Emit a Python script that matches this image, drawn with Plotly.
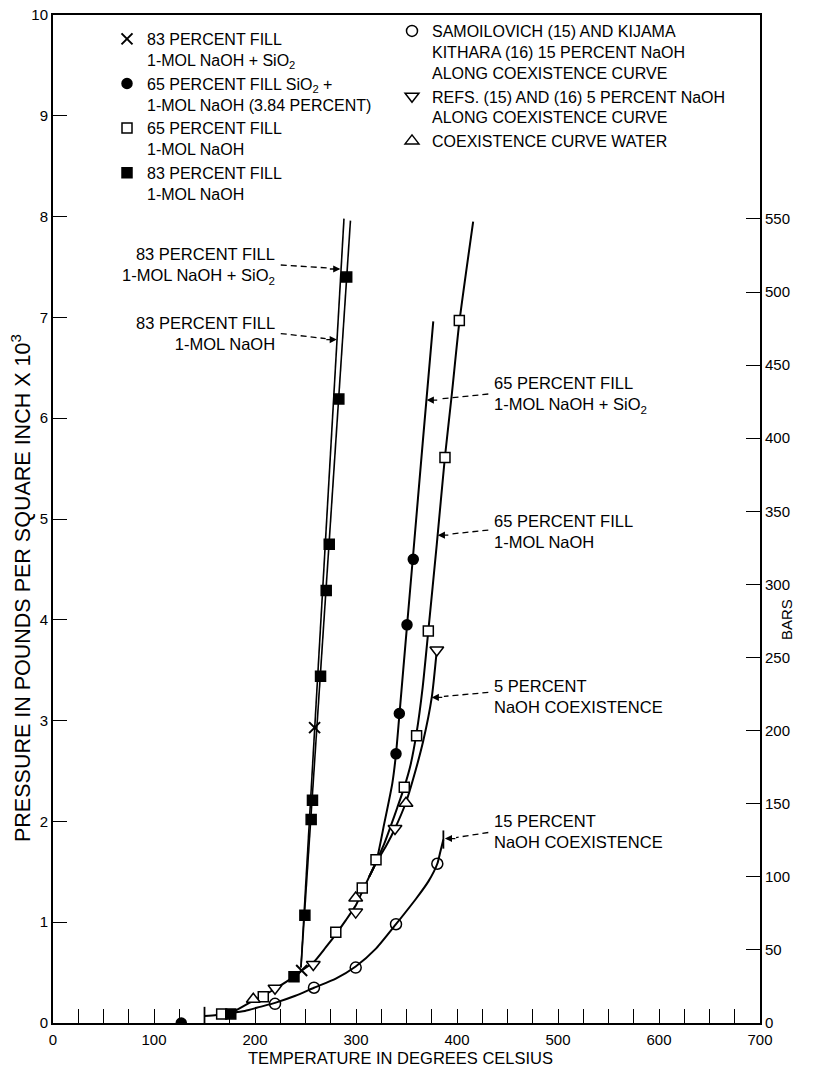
import plotly.graph_objects as go

PSI_PER_BAR = 14.5038  # psi per bar (right axis conversion)

# ---------------- marker data: temperature (deg C), pressure (psi x 10^3) ----------------
cross83_T = [246.2, 259.0]
cross83_P = [0.52, 2.93]

fcirc65_T = [127.0, 339.6, 342.9, 350.5, 356.7]
fcirc65_P = [0.0, 2.67, 3.07, 3.95, 4.60]

osq65_T = [167.0, 208.2, 280.0, 306.2, 319.8, 347.8, 360.0, 371.6, 388.1, 402.3]
osq65_P = [0.09, 0.26, 0.90, 1.34, 1.62, 2.34, 2.85, 3.89, 5.61, 6.97]

fsq83_T = [176.0, 238.6, 249.4, 255.6, 256.9, 264.9, 270.5, 273.5, 283.0, 290.8]
fsq83_P = [0.09, 0.46, 1.07, 2.02, 2.21, 3.44, 4.29, 4.75, 6.19, 7.40]

ocirc15_T = [219.8, 258.4, 299.7, 339.6, 380.5]
ocirc15_P = [0.19, 0.35, 0.55, 0.98, 1.58]

tdown5_T = [219.8, 257.7, 299.7, 338.6, 380.0]
tdown5_P = [0.345, 0.58, 1.10, 1.93, 3.70]

tup_w_T = [198.3, 299.7, 349.5]
tup_w_P = [0.235, 1.24, 2.18]

# ---------------- curve data (hand-drawn curves) ----------------
l83sio2_T = [245.5, 288.1]
l83sio2_P = [0.55, 7.98]
l83_T = [245.5, 294.5]
l83_P = [0.55, 7.96]

l65_T = [150, 162, 176, 198, 208, 220, 238.6, 246, 257.7, 270, 280, 290, 300, 306, 313, 320,
         328, 335, 341, 347.8, 354, 360, 366, 371.6, 380, 388, 395, 402.3, 416]
l65_P = [0.07, 0.08, 0.10, 0.22, 0.27, 0.34, 0.46, 0.52, 0.60, 0.75, 0.88, 1.02, 1.17, 1.30, 1.45, 1.60,
         1.78, 1.97, 2.14, 2.34, 2.56, 2.88, 3.33, 3.89, 4.75, 5.61, 6.25, 6.95, 7.95]

l65sio2_T = [313, 320, 328, 336, 339.6, 342.9, 350.5, 356.7, 366, 376.5]
l65sio2_P = [1.45, 1.60, 1.98, 2.38, 2.67, 3.05, 3.94, 4.66, 5.75, 6.96]

l5_T = [313, 320, 330, 338.6, 349.5, 356, 366.6, 375, 380]
l5_P = [1.45, 1.59, 1.76, 1.93, 2.19, 2.40, 2.80, 3.23, 3.70]

l15_T = [176, 190, 205, 219.8, 240, 258.4, 280, 299.7, 320, 339.6, 360, 372, 380.5, 383.5, 386.5]
l15_P = [0.10, 0.12, 0.16, 0.20, 0.27, 0.35, 0.44, 0.56, 0.74, 0.98, 1.24, 1.41, 1.58, 1.70, 1.82]

endmark_T = [150.0, 386.5]
endmark_P = [0.07, 1.82]

# ---------------- axes ----------------
x_ticks = [0, 100, 200, 300, 400, 500, 600, 700]
y_ticks = list(range(0, 11))
bar_ticks = list(range(0, 551, 50))

# ---------------- legend texts ----------------
leg_cross = "83 PERCENT FILL<br>1-MOL NaOH + SiO<sub>2</sub>"
leg_fcirc = "65 PERCENT FILL SiO<sub>2</sub> +<br>1-MOL NaOH (3.84 PERCENT)"
leg_osq = "65 PERCENT FILL<br>1-MOL NaOH"
leg_fsq = "83 PERCENT FILL<br>1-MOL NaOH"
leg_ocirc = "SAMOILOVICH (15) AND KIJAMA<br>KITHARA (16) 15 PERCENT NaOH<br>ALONG COEXISTENCE CURVE"
leg_tdown = "REFS. (15) AND (16) 5 PERCENT NaOH<br>ALONG COEXISTENCE CURVE"
leg_tup = "COEXISTENCE CURVE WATER"

FONT = "Liberation Sans, Arial, Helvetica, sans-serif"
TXT = dict(family=FONT, size=16.5, color="black")
LEGF = dict(family=FONT, size=16, color="black")

# page geometry (pixels in the 820x1074 window); body margin is removed below
W, H = 820, 1074
L, R, T_, B = 53, 760, 15, 1023
PW, PH = R - L, B - T_


def px(xp):
    return (xp - L) / PW


def py(yp):
    return (B - yp) / PH


fig = go.Figure()


def add_curve(T, P, width=2.0, yaxis="y"):
    fig.add_trace(go.Scatter(
        x=T, y=P, mode="lines", showlegend=False, hoverinfo="skip", yaxis=yaxis,
        line=dict(color="black", width=width, shape="spline", smoothing=0.6)))


add_curve(l83sio2_T, l83sio2_P, 1.6)
add_curve(l83_T, l83_P, 1.6)
add_curve(l65_T, l65_P)
add_curve(l65sio2_T, l65sio2_P)
add_curve(l5_T, l5_P)
# the 15 percent curve is drawn against the right-hand (bars) axis
add_curve(l15_T, [p * 1000 / PSI_PER_BAR for p in l15_P], yaxis="y2")

fig.add_trace(go.Scatter(
    x=endmark_T, y=endmark_P, mode="markers", showlegend=False, hoverinfo="skip",
    marker=dict(symbol="line-ns", size=13, line=dict(color="black", width=1.8))))


def add_markers(T, P, name, symbol, size, fill, legend, lw=1.5):
    fig.add_trace(go.Scatter(
        x=T, y=P, mode="markers", name=name, legend=legend, cliponaxis=True,
        marker=dict(symbol=symbol, size=size, color=fill,
                    line=dict(color="black", width=lw))))


add_markers(cross83_T, cross83_P, leg_cross, "x-thin", 11, "black", "legend", 2)
add_markers(fcirc65_T, fcirc65_P, leg_fcirc, "circle", 10, "black", "legend")
add_markers(osq65_T, osq65_P, leg_osq, "square", 10, "white", "legend")
add_markers(fsq83_T, fsq83_P, leg_fsq, "square", 10, "black", "legend")
add_markers(ocirc15_T, ocirc15_P, leg_ocirc, "circle", 11, "white", "legend2")
add_markers(tdown5_T, tdown5_P, leg_tdown, "triangle-down", 12, "white", "legend2")
add_markers(tup_w_T, tup_w_P, leg_tup, "triangle-up", 12, "white", "legend2")

# ---------------- curve call-outs ----------------
callouts = [
    ("83 PERCENT FILL<br>1-MOL NaOH + SiO<sub>2</sub>", 221.8, 7.51, "right",
     (225.5, 7.52), (273.0, 7.49), (284.5, 7.48), -12),
    ("83 PERCENT FILL<br>1-MOL NaOH", 221.8, 6.84, "right",
     (225.5, 6.84), (270.0, 6.79), (281.0, 6.78), -12),
    ("65 PERCENT FILL<br>1-MOL NaOH + SiO<sub>2</sub>", 434.7, 6.23, "left",
     (431.0, 6.24), (382.0, 6.19), (370.0, 6.18), 12),
    ("65 PERCENT FILL<br>1-MOL NaOH", 434.7, 4.88, "left",
     (431.0, 4.89), (393.0, 4.85), (381.0, 4.84), 12),
    ("5 PERCENT<br>NaOH COEXISTENCE", 434.7, 3.24, "left",
     (431.0, 3.28), (387.0, 3.24), (375.0, 3.23), 12),
    ("15 PERCENT<br>NaOH COEXISTENCE", 434.7, 1.90, "left",
     (431.0, 1.89), (399.0, 1.84), (388.0, 1.83), 12),
]

annotations = []
shapes = []
for text, tx, ty, anc, d0, d1, tip, tdx in callouts:
    annotations.append(dict(x=tx, y=ty, xref="x", yref="y", text=text, showarrow=False,
                            xanchor=anc, yanchor="middle", align=anc, font=TXT))
    shapes.append(dict(type="line", xref="x", yref="y", x0=d0[0], y0=d0[1], x1=d1[0], y1=d1[1],
                       line=dict(color="black", width=1.3, dash="6px,4px")))
    annotations.append(dict(x=tip[0], y=tip[1], xref="x", yref="y", text="", showarrow=True,
                            ax=tdx, ay=0, arrowhead=2, arrowsize=1.1, arrowwidth=1.3,
                            arrowcolor="black"))

annotations.append(dict(text="TEMPERATURE IN DEGREES CELSIUS", xref="paper", yref="paper",
                        x=px(400), y=py(1058), xanchor="center", yanchor="middle",
                        showarrow=False, font=dict(family=FONT, size=16.5, color="black")))
annotations.append(dict(text="PRESSURE IN POUNDS PER SQUARE INCH X 10<sup>3</sup>", xref="paper",
                        yref="paper", x=px(21), y=py(588), xanchor="center",
                        yanchor="middle", textangle=-90, showarrow=False,
                        font=dict(family=FONT, size=21.5, color="black")))
annotations.append(dict(text="BARS", xref="paper", yref="paper", x=px(786),
                        y=py(620), xanchor="center", yanchor="middle", textangle=-90,
                        showarrow=False, font=dict(family=FONT, size=15, color="black")))

TICKF = dict(family=FONT, size=15, color="black")

fig.update_layout(
    width=W, height=H,
    margin=dict(l=L, r=W - R, t=T_, b=H - B, autoexpand=False),
    paper_bgcolor="white", plot_bgcolor="white",
    showlegend=True,
    xaxis=dict(range=[0, 700], tickmode="linear", tick0=0, dtick=100, ticks="inside",
               ticklen=14, tickwidth=1.4, tickcolor="black", showline=True, linewidth=2,
               linecolor="black", mirror=True, showgrid=False, zeroline=False, tickfont=TICKF,
               ticklabelstandoff=2, ticklabeloverflow="allow",
               minor=dict(dtick=25, ticks="inside", ticklen=14, tickwidth=1.4, tickcolor="black",
                          showgrid=False)),
    yaxis=dict(range=[0, 10], tickmode="linear", tick0=0, dtick=1, ticks="inside", ticklen=14,
               tickwidth=1.4, tickcolor="black", showline=True, linewidth=2, linecolor="black",
               showgrid=False, zeroline=False, tickfont=TICKF, ticklabeloverflow="allow"),
    yaxis2=dict(range=[0, 10 * 1000 / PSI_PER_BAR], tickmode="array", tickvals=bar_ticks,
                overlaying="y", side="right", anchor="x", ticks="inside", ticklen=14,
                tickwidth=1.4, tickcolor="black", showline=True, linewidth=2, linecolor="black",
                showgrid=False, zeroline=False, tickfont=TICKF, ticklabeloverflow="allow"),
    legend=dict(x=px(107), y=py(22), xanchor="left", yanchor="top", font=LEGF,
                bgcolor="rgba(0,0,0,0)", valign="top", tracegroupgap=0),
    legend2=dict(x=px(392), y=py(14), xanchor="left", yanchor="top", font=LEGF,
                 bgcolor="rgba(0,0,0,0)", valign="top", tracegroupgap=0),
    annotations=annotations,
    shapes=shapes,
)

fig.write_html("out.html", config={"displayModeBar": False},
               post_script="document.body.style.margin='0';document.body.style.overflow='hidden';")
